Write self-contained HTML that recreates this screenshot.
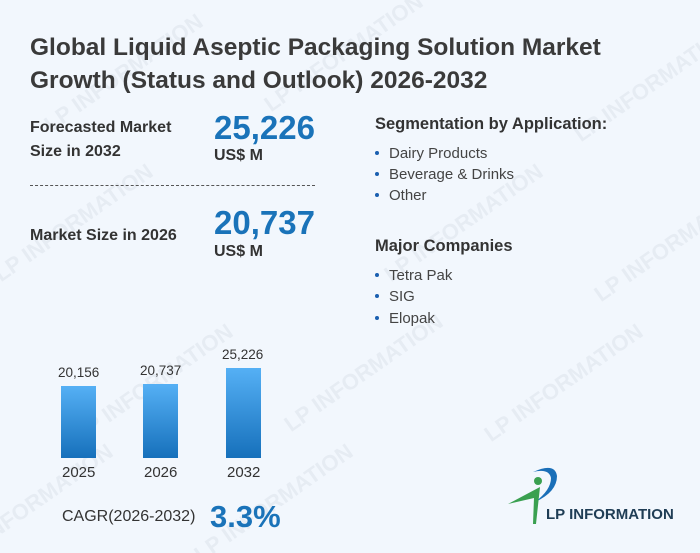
<!DOCTYPE html>
<html style="width:700px;height:553px;overflow:hidden"><head><style>
html,body{margin:0;width:700px;height:553px;overflow:hidden}
body{background:#f2f7fd;font-family:"Liberation Sans","DejaVu Sans",sans-serif;position:relative;color:#333}
.a{position:absolute;white-space:nowrap}
h1{position:absolute;left:30px;top:31px;margin:0;font-size:24.5px;line-height:33px;font-weight:bold;color:#3a3a3a}
.lab{font-size:16px;font-weight:bold;color:#333;line-height:24px}
.big{font-size:33px;font-weight:bold;color:#1a73b9}
.unit{font-size:16px;font-weight:bold;color:#333}
.li{font-size:15px;color:#444}
.li:before{content:"";display:inline-block;width:4px;height:4px;background:#1a5fb0;border-radius:50%;margin:0 10px 3px 0;vertical-align:middle}
.bar{position:absolute;width:35px;background:linear-gradient(#55b0f5,#1670bb)}
.v{font-size:13.5px;color:#333}
.y{font-size:15px;color:#333}
.wmc{position:absolute;left:0;top:0;width:700px;height:553px;overflow:hidden}
.wm{position:absolute;color:rgba(150,160,175,.12);font-size:22px;font-weight:bold;transform:rotate(-35deg);white-space:nowrap}
</style></head><body>
<div class="wmc">
<div class="wm" style="left:30px;top:60px">LP INFORMATION</div>
<div class="wm" style="left:250px;top:40px">LP INFORMATION</div>
<div class="wm" style="left:560px;top:70px">LP INFORMATION</div>
<div class="wm" style="left:-20px;top:210px">LP INFORMATION</div>
<div class="wm" style="left:370px;top:210px">LP INFORMATION</div>
<div class="wm" style="left:580px;top:230px">LP INFORMATION</div>
<div class="wm" style="left:60px;top:370px">LP INFORMATION</div>
<div class="wm" style="left:270px;top:360px">LP INFORMATION</div>
<div class="wm" style="left:470px;top:370px">LP INFORMATION</div>
<div class="wm" style="left:-60px;top:490px">LP INFORMATION</div>
<div class="wm" style="left:180px;top:490px">LP INFORMATION</div>
</div>
<h1>Global Liquid Aseptic Packaging Solution Market<br>Growth (Status and Outlook) 2026-2032</h1>
<div class="a lab" style="left:30px;top:116px">Forecasted Market<br>Size in 2032</div>
<div class="a big" style="left:214px;top:109px">25,226</div>
<div class="a unit" style="left:214px;top:147px">US$ M</div>
<div class="a" style="left:30px;top:185px;width:285px;border-top:1px dashed #555"></div>
<div class="a lab" style="left:30px;top:224px">Market Size in 2026</div>
<div class="a big" style="left:214px;top:204px">20,737</div>
<div class="a unit" style="left:214px;top:243px">US$ M</div>
<div class="a lab" style="left:375px;top:112px;font-size:16.5px">Segmentation by Application:</div>
<div class="a li" style="left:375px;top:145px">Dairy Products</div>
<div class="a li" style="left:375px;top:166px">Beverage &amp; Drinks</div>
<div class="a li" style="left:375px;top:187px">Other</div>
<div class="a lab" style="left:375px;top:234px;font-size:16.5px">Major Companies</div>
<div class="a li" style="left:375px;top:267px">Tetra Pak</div>
<div class="a li" style="left:375px;top:288px">SIG</div>
<div class="a li" style="left:375px;top:310px">Elopak</div>
<div class="bar" style="left:61px;top:386px;height:72px"></div>
<div class="bar" style="left:143px;top:384px;height:74px"></div>
<div class="bar" style="left:226px;top:368px;height:90px"></div>
<div class="a v" style="left:58px;top:365px">20,156</div>
<div class="a v" style="left:140px;top:363px">20,737</div>
<div class="a v" style="left:222px;top:347px">25,226</div>
<div class="a y" style="left:62px;top:464px">2025</div>
<div class="a y" style="left:144px;top:464px">2026</div>
<div class="a y" style="left:227px;top:464px">2032</div>
<div class="a" style="left:62px;top:508px;font-size:16px;color:#333">CAGR(2026-2032)</div>
<div class="a" style="left:210px;top:499px;font-size:31px;font-weight:bold;color:#1a73b9">3.3%</div>
<svg class="a" style="left:505px;top:462px" width="60" height="70" viewBox="0 0 60 70">
<path d="M28 10 Q50 0 52 14 Q52 30 30 40 Q46 28 46 16 Q44 6 28 10Z" fill="#1a6fb8"/>
<circle cx="33" cy="19" r="4" fill="#3aa050"/>
<path d="M3 42 L35 25 L31 62 L28 62 L29 36 Z" fill="#3aa050"/>
</svg>
<div class="a" style="left:546px;top:506px;font-size:15px;font-weight:bold;color:#1f3d55">LP INFORMATION</div>
</body></html>
